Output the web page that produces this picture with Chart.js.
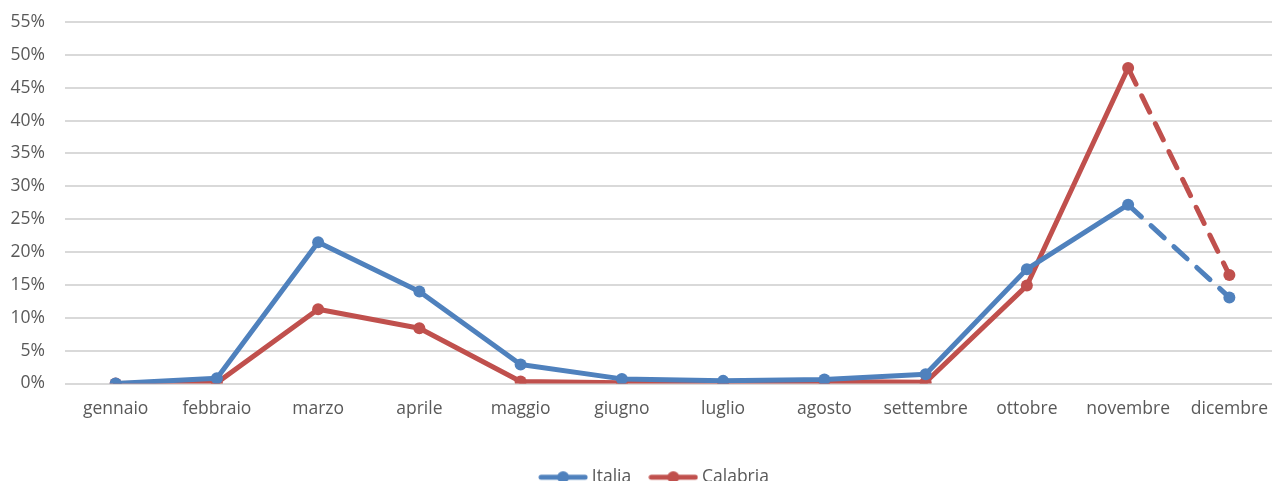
<!DOCTYPE html>
<html>
<head>
<meta charset="utf-8">
<script src="https://cdn.jsdelivr.net/npm/chart.js@4/dist/chart.umd.min.js"></script>
<style>
  html, body { margin: 0; padding: 0; background: #fff; overflow: hidden; }
  #c { display: block; }
</style>
</head>
<body>
<canvas id="c" width="1286" height="496"></canvas>
<script>
// Monthly share (%) per area
const months = ['gennaio', 'febbraio', 'marzo', 'aprile', 'maggio', 'giugno',
                'luglio', 'agosto', 'settembre', 'ottobre', 'novembre', 'dicembre'];
const italia   = [0, 0.8, 21.5, 14.0, 2.9, 0.7, 0.4, 0.6, 1.4, 17.4, 27.2, 13.1];
const calabria = [0, 0.1, 11.3, 8.4, 0.3, 0.1, 0.1, 0.3, 0.2, 14.9, 48.0, 16.5];
const yTicks = [0, 5, 10, 15, 20, 25, 30, 35, 40, 45, 50, 55];

const BLUE = '#4F81BD';
const RED = '#C0504D';
const TEXT = '#595959';
const FONT = "'Open Sans', 'Noto Sans', sans-serif";
const FSIZE = 17.5;

// last month (partial) is drawn dashed
const lastIdx = months.length - 2;
const dashed = ctx => ctx.p0DataIndex >= lastIdx ? [18, 13] : undefined;

// legend marker: short line with a dot in the middle
function legendMarker(color) {
  const cv = document.createElement('canvas');
  cv.width = 50; cv.height = 14;
  const g = cv.getContext('2d');
  g.strokeStyle = color; g.lineWidth = 5; g.lineCap = 'round';
  g.beginPath(); g.moveTo(3, 7); g.lineTo(47, 7); g.stroke();
  g.fillStyle = color;
  g.beginPath(); g.arc(25, 7, 6, 0, Math.PI * 2); g.fill();
  return cv;
}
const markers = [legendMarker(BLUE), legendMarker(RED)];

// nudge the legend row a little to the right
const legendShift = {
  id: 'legendShift',
  afterLayout(chart) {
    if (chart.legend) { chart.legend.left += 8; chart.legend.right += 8; }
  }
};

function series(label, data, color) {
  return {
    label, data,
    borderColor: color,
    backgroundColor: color,
    borderWidth: 5,
    borderCapStyle: 'round',
    borderJoinStyle: 'round',
    pointRadius: 6,
    pointHoverRadius: 6,
    pointBorderWidth: 0,
    pointBackgroundColor: color,
    tension: 0,
    segment: { borderDash: dashed }
  };
}

new Chart(document.getElementById('c'), {
  type: 'line',
  data: {
    labels: months,
    datasets: [series('Italia', italia, BLUE), series('Calabria', calabria, RED)]
  },
  plugins: [legendShift],
  options: {
    responsive: false,
    animation: false,
    layout: { padding: { top: 22, right: 0, left: 10, bottom: 0 } },
    scales: {
      x: {
        offset: true,
        grid: { display: false, drawTicks: false },
        border: { display: false },
        ticks: { color: TEXT, font: { family: FONT, size: FSIZE }, padding: 15, maxRotation: 0, autoSkip: false },
        afterFit: axis => { axis.height = 63; axis.paddingLeft = 0; axis.paddingRight = 0; }
      },
      y: {
        min: 0, max: 55,
        afterBuildTicks: axis => { axis.ticks = yTicks.map(v => ({ value: v })); },
        grid: { color: '#d9d9d9', lineWidth: 2, drawTicks: false },
        border: { display: false },
        ticks: { color: TEXT, font: { family: FONT, size: FSIZE }, padding: 20, callback: v => v + '%' },
        afterFit: axis => { axis.width = 55; axis.paddingTop = 0; axis.paddingBottom = 0; }
      }
    },
    plugins: {
      tooltip: { enabled: false },
      legend: {
        position: 'bottom',
        labels: {
          color: TEXT,
          font: { family: FONT, size: FSIZE },
          usePointStyle: true,
          pointStyleWidth: 40,
          boxHeight: 14,
          padding: 22,
          generateLabels: chart => chart.data.datasets.map((ds, i) => ({
            text: ds.label,
            fillStyle: ds.borderColor,
            strokeStyle: ds.borderColor,
            fontColor: TEXT,
            lineWidth: 0,
            pointStyle: markers[i],
            datasetIndex: i,
            hidden: false
          }))
        }
      }
    }
  }
});
</script>
</body>
</html>
